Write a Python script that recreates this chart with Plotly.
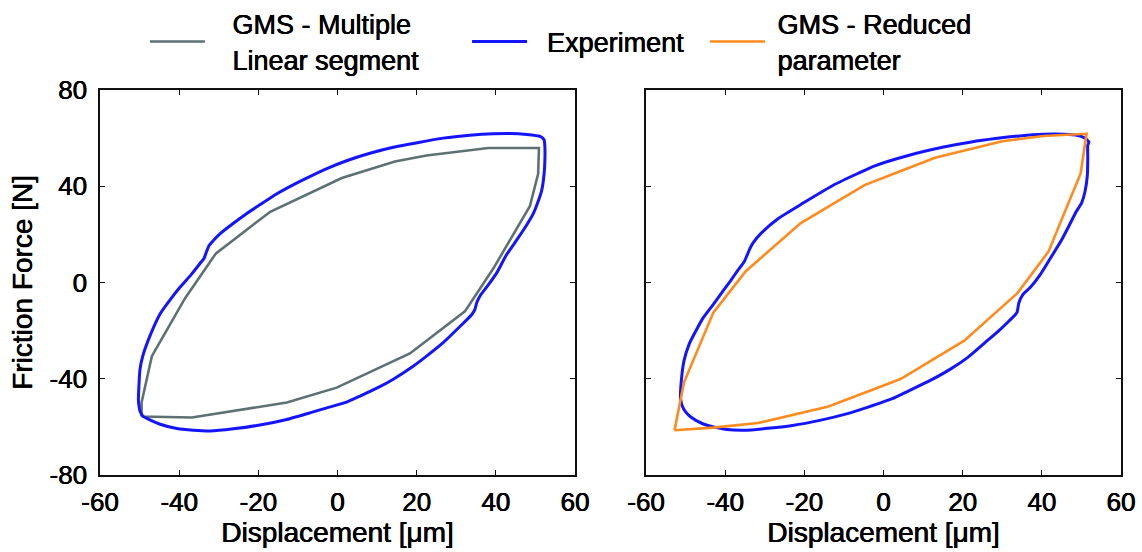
import plotly.graph_objects as go

# ---- data: friction force vs. displacement hysteresis loops ----
# Experiment (left panel)
exp_left_x = [-50.3, -49.9, -49.2, -47.4, -44.8, -42.3, -39.8, -36.8, -34.7, -33.7, -33.1, -32.5,
              -31.4, -29.7, -26.3, -23.0, -19.6, -15.4, -11.2, -7.0, -2.7, 2.3, 8.2, 14.1, 20.8,
              26.7, 33.5, 39.4, 43.6, 47.8, 51.2, 52.2, 52.4, 52.4, 52.2, 51.6, 50.5, 49.5, 47.8,
              45.3, 42.7, 40.2, 38.1, 36.2, 35.2, 34.7, 33.9, 31.0, 26.7, 22.5, 19.2, 14.1, 10.7,
              5.7, 2.3, -2.7, -7.0, -12.8, -19.6, -26.3, -32.2, -36.4, -40.6, -44.8, -47.8, -49.2,
              -49.9, -50.2, -50.3]
exp_left_y = [-48.6, -36.1, -30.6, -22.3, -13.0, -7.2, -2.0, 3.6, 8.0, 10.1, 12.8, 15.2,
              17.4, 20.2, 24.6, 28.6, 32.3, 36.8, 40.6, 44.0, 47.3, 50.6, 53.7, 56.2, 58.3,
              60.0, 61.2, 61.8, 61.9, 61.5, 60.7, 59.3, 56.3, 50.8, 45.2, 38.3, 32.8, 28.7, 23.9,
              17.7, 11.5, 3.9, -1.0, -5.1, -8.3, -11.3, -13.4, -18.2, -25.0, -30.6, -34.7, -40.2, -43.3,
              -47.2, -49.7, -52.1, -54.2, -56.9, -59.2, -60.8, -61.7, -61.4, -60.7, -58.9, -56.8, -55.5,
              -53.4, -50.6, -48.6]

# GMS - Multiple Linear segment (left panel)
gms_mls_x = [-49.5, -36.8, -12.8, -0.2, 18.3, 32.2, 39.4, 48.6, 50.7, 50.9, 38.1, 22.5, 14.5,
             1.1, -17.0, -30.7, -38.5, -46.9, -49.5, -49.5]
gms_mls_y = [-55.7, -56.1, -49.9, -43.7, -29.5, -12.0, 5.9, 31.7, 45.2, 55.9, 55.9, 52.8, 50.3,
             43.4, 29.4, 12.1, -6.5, -30.6, -49.9, -55.7]

# Experiment (right panel)
exp_right_x = [-51.3, -51.0, -50.4, -49.1, -47.4, -45.7, -43.0, -40.4, -38.7, -37.0, -35.2, -34.4,
               -33.7, -33.0, -30.9, -26.5, -20.4, -12.6, -6.5, -2.2, 6.5, 15.2, 22.2, 28.3, 34.4,
               40.4, 45.7, 49.1, 50.9, 51.9, 51.6, 51.6, 51.5, 50.9, 50.0, 48.7, 47.0, 44.8, 42.2,
               39.6, 37.0, 35.2, 34.2, 33.7, 31.7, 29.1, 25.7, 21.3, 17.0, 11.7, 6.5, 2.2, -3.9,
               -9.1, -16.1, -23.0, -30.0, -35.2, -39.6, -42.2, -45.7, -48.7, -50.0, -50.9, -51.2, -51.3]
exp_right_y = [-47.6, -39.4, -32.5, -25.6, -20.1, -15.0, -9.1, -3.2, 0.6, 4.6, 8.6, 11.6,
               14.3, 16.4, 20.5, 26.7, 32.9, 40.5, 45.3, 48.5, 52.9, 56.3, 58.4, 59.8, 60.9,
               61.6, 61.6, 61.1, 60.0, 58.4, 57.0, 51.5, 44.6, 37.7, 32.9, 29.5, 24.0, 17.1, 10.2,
               3.3, -2.2, -5.0, -8.4, -12.5, -16.0, -20.1, -24.9, -31.1, -35.9, -40.8, -44.9, -48.3, -51.8,
               -54.5, -57.3, -59.4, -60.7, -61.4, -61.1, -60.3, -58.7, -55.9, -53.8, -51.1, -49.0, -47.6]

# GMS - Reduced parameter (right panel)
gms_rp_x = [-52.8, -50.4, -43.0, -34.8, -20.9, -16.1, -4.8, 3.9, 13.0, 30.0, 40.4, 51.3, 50.4,
            49.8, 41.7, 33.9, 20.4, 4.3, -13.9, -31.7, -43.0, -52.8]
gms_rp_y = [-61.4, -41.5, -12.5, 4.7, 24.7, 29.5, 40.5, 46.0, 51.8, 58.7, 60.9, 61.8, 51.5,
            45.3, 12.9, -4.3, -24.2, -40.1, -51.5, -58.4, -60.3, -61.4]

x_ticks = [-60, -40, -20, 0, 20, 40, 60]
x_tick_labels = ["-60", "-40", "-20", "0", "20", "40", "60"]
y_ticks = [-80, -40, 0, 40, 80]
y_tick_labels = ["-80", "-40", "0", "40", "80"]

BLUE = "#1414ff"
GRAY = "#5d7173"
ORANGE = "#ff8a1e"
FONT_FAMILY = "Liberation Sans, Arial, sans-serif"
HEAVY = "0.4px 0 0 #000, -0.2px 0 0 #000"
PAD = "\u00a0"


def font(size):
    return dict(family=FONT_FAMILY, size=size, color="black", shadow=HEAVY)


fig = go.Figure()

fig.add_trace(go.Scatter(
    x=gms_mls_x, y=gms_mls_y, mode="lines", xaxis="x", yaxis="y",
    name=PAD * 3 + "GMS - Multiple<br>" + PAD * 3 + "Linear segment",
    line=dict(color=GRAY, width=2.6), legend="legend"))
fig.add_trace(go.Scatter(
    x=exp_left_x, y=exp_left_y, mode="lines", xaxis="x", yaxis="y",
    name=PAD * 2 + "Experiment", line=dict(color=BLUE, width=3, shape="spline", smoothing=0.5),
    legend="legend2"))
fig.add_trace(go.Scatter(
    x=exp_right_x, y=exp_right_y, mode="lines", xaxis="x2", yaxis="y2",
    name="Experiment", showlegend=False,
    line=dict(color=BLUE, width=3, shape="spline", smoothing=0.5)))
fig.add_trace(go.Scatter(
    x=gms_rp_x, y=gms_rp_y, mode="lines", xaxis="x2", yaxis="y2",
    name=PAD + "GMS - Reduced<br>" + PAD + "parameter",
    line=dict(color=ORANGE, width=2.6), legend="legend3"))

axis_common = dict(
    showline=True, linecolor="#111111", linewidth=1.5, mirror="ticks",
    ticks="inside", ticklen=5, tickwidth=1.2, tickcolor="#111111",
    showgrid=False, zeroline=False,
    tickfont=font(26),
)

x_common = dict(axis_common, range=[-60, 60], tickvals=x_ticks, ticktext=x_tick_labels,
                ticklabelstandoff=3,
                title=dict(text="Displacement [μm]", standoff=6, font=font(28)))
y_common = dict(axis_common, range=[-80, 80], tickvals=y_ticks, ticktext=y_tick_labels)

legend_common = dict(orientation="h", yanchor="middle", y=1.125, xanchor="left",
                     bgcolor="rgba(0,0,0,0)", itemwidth=55, valign="middle",
                     font=font(27))

fig.update_layout(
    width=1142, height=552,
    margin=dict(l=100, r=21, t=90, b=77, autoexpand=False),
    paper_bgcolor="white", plot_bgcolor="white",
    font=dict(family=FONT_FAMILY, size=26, color="black"),
    xaxis=dict(x_common, domain=[0, 0.4652], anchor="y"),
    yaxis=dict(y_common, domain=[0, 1], anchor="x", ticklabelstandoff=6,
               title=dict(text="Friction Force [N]", standoff=9, font=font(28))),
    xaxis2=dict(x_common, domain=[0.5348, 1], anchor="y2"),
    yaxis2=dict(y_common, domain=[0, 1], anchor="x2", showticklabels=False),
    legend=dict(legend_common, x=0.044),
    legend2=dict(legend_common, x=0.3595),
    legend3=dict(legend_common, x=0.5926),
    showlegend=True,
)

fig.write_html("out.html")
